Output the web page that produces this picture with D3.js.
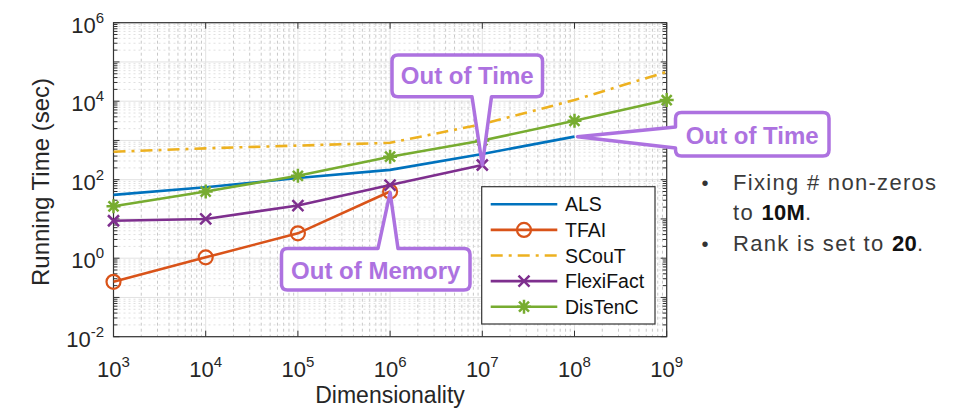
<!DOCTYPE html>
<html>
<head>
<meta charset="utf-8">
<script src="https://cdn.jsdelivr.net/npm/d3@7"></script>
<style>
  body { margin: 0; background: #fff; }
  svg { display: block; font-family: "Liberation Sans", Arial, sans-serif; }
</style>
</head>
<body>
<svg id="chart" width="968" height="415"></svg>
<script>
// dimensionality values (x)
const dims = [1e3, 1e4, 1e5, 1e6, 1e7, 1e8, 1e9];
// running times in seconds
const als = [41, 64, 110, 178, 452, 1250];
const tfai = [0.25, 1.05, 4.3, 50];
const scout = [515, 630, 740, 870, 2600, 10700, 56000];
const flexiFact = [9, 10, 22, 73, 237];
const disTenC = [21, 50, 126, 385, 1000, 3160, 10700];

const xTicks = [1e3, 1e4, 1e5, 1e6, 1e7, 1e8, 1e9];
const xTickExp = ["3", "4", "5", "6", "7", "8", "9"];
const yTicks = [1e-2, 1e0, 1e2, 1e4, 1e6];
const yTickExp = ["-2", "0", "2", "4", "6"];

const bullets = [
  [{ t: "Fixing # non-zeros", b: false }],
  [{ t: "to ", b: false }, { t: "10M", b: true }, { t: ".", b: false }],
  [{ t: "Rank is set to ", b: false }, { t: "20", b: true }, { t: ".", b: false }]
];

const series = [
  { name: "ALS", values: als, color: "#0072BD", marker: null, dash: null },
  { name: "TFAI", values: tfai, color: "#D95319", marker: "circle", dash: null },
  { name: "SCouT", values: scout, color: "#EDB120", marker: null, dash: "12,6,3,6" },
  { name: "FlexiFact", values: flexiFact, color: "#7E2F8E", marker: "x", dash: null },
  { name: "DisTenC", values: disTenC, color: "#77AC30", marker: "star", dash: null }
];

const svg = d3.select("#chart");
const plot = { left: 113.5, right: 666.7, top: 22.7, bottom: 336.7 };

const x = d3.scaleLog().domain([1e3, 1e9]).range([plot.left, plot.right]);
const y = d3.scaleLog().domain([1e-2, 1e6]).range([plot.bottom, plot.top]);

// grid
const minorX = [], minorY = [];
for (let d = 3; d < 9; d++) for (let k = 2; k <= 9; k++) minorX.push(k * Math.pow(10, d));
for (let d = -2; d < 6; d++) for (let k = 2; k <= 9; k++) minorY.push(k * Math.pow(10, d));
const decadesY = d3.range(-2, 7).map(d => Math.pow(10, d));

const grid = svg.append("g");
grid.selectAll(".mx").data(minorX).join("line")
  .attr("x1", d => x(d)).attr("x2", d => x(d))
  .attr("y1", plot.top).attr("y2", plot.bottom)
  .attr("stroke", "#c8c8c8").attr("stroke-dasharray", "3,3");
grid.selectAll(".my").data(minorY).join("line")
  .attr("y1", d => y(d)).attr("y2", d => y(d))
  .attr("x1", plot.left).attr("x2", plot.right)
  .attr("stroke", "#e0e0e0").attr("stroke-dasharray", "2,3");
grid.selectAll(".gx").data(xTicks).join("line")
  .attr("x1", d => x(d)).attr("x2", d => x(d))
  .attr("y1", plot.top).attr("y2", plot.bottom)
  .attr("stroke", "#e2e2e2");
grid.selectAll(".gy").data(decadesY).join("line")
  .attr("y1", d => y(d)).attr("y2", d => y(d))
  .attr("x1", plot.left).attr("x2", plot.right)
  .attr("stroke", "#e2e2e2");

// inward ticks
const ticks = svg.append("g").attr("stroke", "#333");
minorY.forEach(v => {
  ticks.append("line").attr("x1", plot.left).attr("x2", plot.left + 4).attr("y1", y(v)).attr("y2", y(v));
  ticks.append("line").attr("x1", plot.right).attr("x2", plot.right - 4).attr("y1", y(v)).attr("y2", y(v));
});
decadesY.forEach(v => {
  ticks.append("line").attr("x1", plot.left).attr("x2", plot.left + 6).attr("y1", y(v)).attr("y2", y(v));
  ticks.append("line").attr("x1", plot.right).attr("x2", plot.right - 6).attr("y1", y(v)).attr("y2", y(v));
});
xTicks.forEach(v => {
  ticks.append("line").attr("x1", x(v)).attr("x2", x(v)).attr("y1", plot.bottom).attr("y2", plot.bottom - 6);
  ticks.append("line").attr("x1", x(v)).attr("x2", x(v)).attr("y1", plot.top).attr("y2", plot.top + 6);
});

svg.append("rect")
  .attr("x", plot.left).attr("y", plot.top)
  .attr("width", plot.right - plot.left).attr("height", plot.bottom - plot.top)
  .attr("fill", "none").attr("stroke", "#333").attr("stroke-width", 1.2);

// tick labels
xTicks.forEach((v, i) => {
  const t = svg.append("text").attr("x", x(v)).attr("y", 376.7)
    .attr("text-anchor", "middle").attr("font-size", 22).attr("fill", "#262626");
  t.append("tspan").text("10");
  t.append("tspan").attr("font-size", 15).attr("dy", -10).text(xTickExp[i]);
});
yTicks.forEach((v, i) => {
  const t = svg.append("text").attr("x", 104).attr("y", y(v) + 10)
    .attr("text-anchor", "end").attr("font-size", 22).attr("fill", "#262626");
  t.append("tspan").text("10");
  t.append("tspan").attr("font-size", 15).attr("dy", -10).text(yTickExp[i]);
});

svg.append("text").attr("x", 390).attr("y", 403).attr("text-anchor", "middle")
  .attr("font-size", 23).attr("fill", "#262626").text("Dimensionality");
svg.append("text").attr("transform", "translate(49,182) rotate(-90)").attr("text-anchor", "middle")
  .attr("font-size", 24).attr("fill", "#262626").text("Running Time (sec)");

// markers
function drawMarker(g, type, cx, cy, color) {
  if (type === "circle") {
    g.append("circle").attr("cx", cx).attr("cy", cy).attr("r", 7)
      .attr("fill", "none").attr("stroke", color).attr("stroke-width", 2.2);
  } else if (type === "x") {
    const s = 5.5;
    g.append("path").attr("d", `M${cx - s},${cy - s}L${cx + s},${cy + s}M${cx - s},${cy + s}L${cx + s},${cy - s}`)
      .attr("stroke", color).attr("stroke-width", 2.5);
  } else if (type === "star") {
    const s = 7, d = 5;
    g.append("path").attr("d",
      `M${cx - s},${cy}L${cx + s},${cy}M${cx},${cy - s}L${cx},${cy + s}` +
      `M${cx - d},${cy - d}L${cx + d},${cy + d}M${cx - d},${cy + d}L${cx + d},${cy - d}`)
      .attr("stroke", color).attr("stroke-width", 2.5);
  }
}

const line = d3.line().x(d => x(d[0])).y(d => y(d[1]));
const lines = svg.append("g");
series.forEach(s => {
  const pts = s.values.map((v, i) => [dims[i], v]);
  lines.append("path").datum(pts).attr("d", line)
    .attr("fill", "none").attr("stroke", s.color).attr("stroke-width", 2.6)
    .attr("stroke-dasharray", s.dash);
  if (s.marker) pts.forEach(p => drawMarker(lines, s.marker, x(p[0]), y(p[1]), s.color));
});

// callouts
const calloutColor = "#ad72e0";
function callout(box, side, b0, b1, tip, label, ty) {
  const { x0, y0, x1, y1 } = box, r = 6;
  let p = `M${x0 + r},${y0}`;
  if (side === "top") p += `L${b0},${y0}L${tip[0]},${tip[1]}L${b1},${y0}`;
  p += `L${x1 - r},${y0}Q${x1},${y0} ${x1},${y0 + r}`;
  p += `L${x1},${y1 - r}Q${x1},${y1} ${x1 - r},${y1}`;
  if (side === "bottom") p += `L${b1},${y1}L${tip[0]},${tip[1]}L${b0},${y1}`;
  p += `L${x0 + r},${y1}Q${x0},${y1} ${x0},${y1 - r}`;
  if (side === "left") p += `L${x0},${b1}L${tip[0]},${tip[1]}L${x0},${b0}`;
  p += `L${x0},${y0 + r}Q${x0},${y0} ${x0 + r},${y0}Z`;
  svg.append("path").attr("d", p).attr("fill", "#fff")
    .attr("stroke", calloutColor).attr("stroke-width", 3.5).attr("stroke-linejoin", "round");
  svg.append("text").attr("x", (x0 + x1) / 2).attr("y", ty).attr("text-anchor", "middle")
    .attr("font-size", 24).attr("font-weight", "bold").attr("fill", calloutColor).text(label);
}

callout({ x0: 392, y0: 55, x1: 542.5, y1: 96.7 }, "bottom", 472, 491.5,
  [x(dims[flexiFact.length - 1]), y(flexiFact[flexiFact.length - 1])], "Out of Time", 84);
callout({ x0: 675.5, y0: 112.5, x1: 829, y1: 156 }, "left", 127, 148,
  [x(dims[als.length - 1]) + 3, y(als[als.length - 1])], "Out of Time", 143.5);
callout({ x0: 281.5, y0: 248.5, x1: 470, y1: 290 }, "top", 378, 398,
  [x(dims[tfai.length - 1]), y(tfai[tfai.length - 1]) + 1], "Out of Memory", 279);

// legend
const lg = svg.append("g");
lg.append("rect").attr("x", 481.7).attr("y", 186.7).attr("width", 173.3).attr("height", 137.3)
  .attr("fill", "#fff").attr("stroke", "#333").attr("stroke-width", 1.2);
series.forEach((s, i) => {
  const cy = 204.3 + i * 25.6;
  lg.append("line").attr("x1", 490.7).attr("x2", 557.3).attr("y1", cy).attr("y2", cy)
    .attr("stroke", s.color).attr("stroke-width", 2.6).attr("stroke-dasharray", s.dash);
  if (s.marker) drawMarker(lg, s.marker, 524, cy, s.color);
  lg.append("text").attr("x", 565).attr("y", cy + 7).attr("font-size", 19.5)
    .attr("fill", "#111").text(s.name);
});

// side notes
const notes = svg.append("g").attr("fill", "#333");
const noteY = [190, 220, 250.7];
bullets.forEach((parts, i) => {
  if (i !== 1) notes.append("text").attr("x", 705).attr("y", noteY[i]).attr("text-anchor", "middle")
    .attr("font-size", 20).text("•");
  const t = notes.append("text").attr("x", 733).attr("y", noteY[i]).attr("font-size", 22)
    .attr("letter-spacing", 1.3);
  parts.forEach(pt => t.append("tspan").attr("font-weight", pt.b ? "bold" : "normal")
    .attr("letter-spacing", pt.b ? 0.3 : 1.3)
    .attr("fill", pt.b ? "#111" : "#3a3a3a").text(pt.t));
});
</script>
</body>
</html>
